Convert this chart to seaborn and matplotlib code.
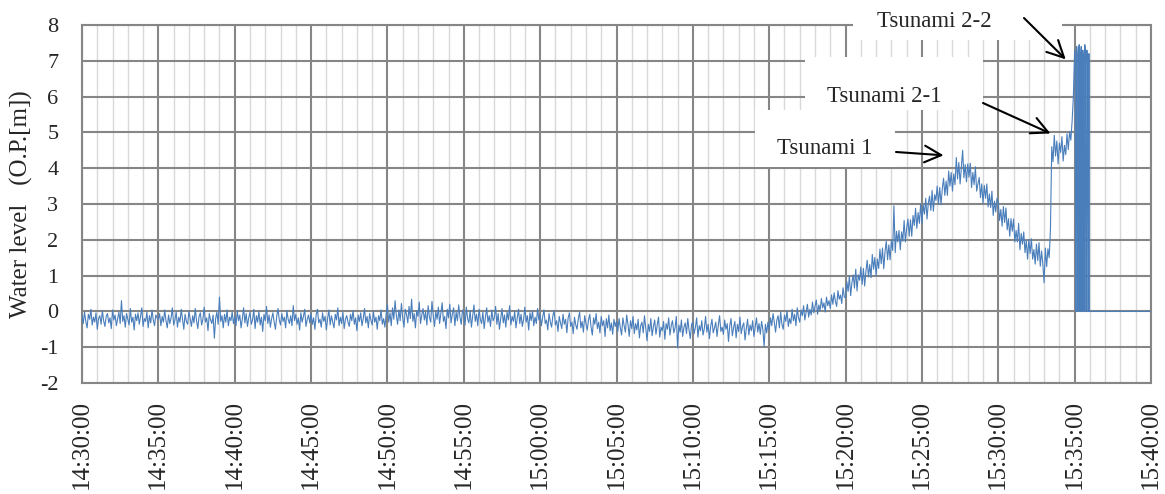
import numpy as np
import pandas as pd
import matplotlib
matplotlib.use("Agg")
import matplotlib.pyplot as plt
import matplotlib.dates as mdates
from matplotlib.patches import Rectangle
from matplotlib.text import Annotation
import seaborn as sns


# -----------------------------
# water level readings, 5 s apart, one list per 5 minutes
wl_1430 = [-0.10, -0.34, -0.02, -0.28, -0.46, -0.08, -0.22, 0.06, -0.38, -0.16,
           -0.30, -0.04, -0.50, -0.20, -0.12, -0.36, 0.02, -0.26, -0.42, -0.14,
           -0.06, -0.32, -0.18, -0.48, 0.04, -0.24, -0.10, -0.40, -0.20, -0.02,
           -0.34, 0.30, -0.28, -0.12, -0.44, -0.06, -0.22, -0.38, 0.08, -0.30,
           -0.16, -0.52, -0.08, -0.26, -0.04, -0.36, -0.14, 0.10, -0.42, -0.20,
           -0.28, -0.02, -0.46, -0.12, -0.32, 0.04, -0.24, -0.40, -0.10, -0.18]
wl_1435 = [-0.22, -0.06, -0.40, -0.14, -0.30, 0.04, -0.26, -0.46, -0.10, -0.34,
           -0.18, 0.10, -0.38, -0.24, -0.02, -0.44, -0.16, -0.30, 0.06, -0.22,
           -0.50, -0.08, -0.28, -0.36, 0.00, -0.20, -0.42, -0.12, -0.32, 0.08,
           -0.26, -0.48, -0.14, -0.04, -0.38, -0.22, 0.12, -0.30, -0.18, -0.54,
           -0.06, -0.24, -0.34, -0.10, -0.75, -0.20, -0.02, -0.36, 0.40, -0.28,
           -0.12, -0.46, -0.08, -0.30, 0.04, -0.40, -0.16, -0.26, -0.02, -0.34]
wl_1440 = [-0.14, -0.40, 0.02, -0.26, -0.10, -0.46, -0.20, 0.10, -0.32, -0.06,
           -0.42, -0.18, -0.02, -0.36, -0.24, 0.06, -0.48, -0.12, -0.30, 0.00,
           -0.38, -0.16, -0.56, -0.08, -0.26, 0.14, -0.34, -0.10, -0.44, -0.20,
           -0.04, -0.30, -0.50, -0.14, 0.08, -0.24, -0.38, -0.06, -0.28, -0.16,
           -0.46, 0.02, -0.22, -0.34, -0.12, -0.40, 0.16, -0.26, -0.08, -0.36,
           -0.18, -0.52, -0.04, -0.30, -0.14, 0.06, -0.42, -0.22, -0.10, -0.32]
wl_1445 = [-0.06, -0.36, -0.18, -0.50, -0.10, 0.06, -0.32, -0.22, -0.44, -0.04,
           -0.28, -0.14, -0.52, -0.20, 0.04, -0.38, -0.12, -0.30, -0.46, -0.08,
           -0.24, 0.10, -0.40, -0.16, -0.34, -0.02, -0.48, -0.22, -0.12, -0.30,
           -0.42, -0.08, -0.26, 0.02, -0.36, -0.18, -0.54, -0.10, -0.28, -0.04,
           -0.40, -0.20, 0.08, -0.32, -0.14, -0.46, -0.06, -0.24, -0.38, 0.00,
           -0.30, -0.16, -0.50, -0.12, -0.26, 0.04, -0.36, -0.20, -0.44, -0.08]
wl_1450 = [0.18, -0.30, -0.04, -0.40, 0.10, -0.22, 0.30, -0.12, -0.36, 0.04,
           -0.26, 0.22, -0.18, -0.44, 0.06, -0.08, -0.32, 0.14, -0.20, 0.34,
           -0.28, -0.06, -0.46, 0.02, -0.14, 0.26, -0.34, -0.10, 0.08, -0.24,
           -0.02, -0.38, 0.16, -0.16, -0.30, 0.28, -0.12, -0.42, 0.00, -0.22,
           0.12, -0.34, -0.06, 0.24, -0.28, -0.14, -0.48, 0.06, -0.18, 0.20,
           -0.32, -0.08, 0.10, -0.40, -0.02, -0.26, 0.18, -0.16, -0.36, 0.04]
wl_1455 = [-0.04, -0.38, 0.12, -0.20, -0.32, 0.02, -0.44, -0.14, 0.18, -0.28,
           -0.08, -0.40, 0.06, -0.22, -0.34, -0.02, -0.48, -0.16, 0.10, -0.30,
           -0.12, -0.42, 0.04, -0.26, -0.18, 0.14, -0.36, -0.06, -0.50, -0.20,
           0.08, -0.32, -0.10, -0.44, -0.02, -0.24, 0.16, -0.38, -0.14, -0.28,
           0.00, -0.46, -0.18, 0.06, -0.34, -0.08, -0.42, -0.22, 0.12, -0.30,
           -0.12, -0.52, -0.04, -0.26, 0.02, -0.40, -0.16, -0.34, 0.08, -0.24]
wl_1500 = [-0.10, -0.40, -0.16, 0.04, -0.34, -0.24, -0.52, -0.06, -0.30, -0.44,
           -0.12, 0.02, -0.38, -0.26, -0.56, -0.14, -0.32, -0.48, -0.08, -0.36,
           -0.22, -0.60, -0.18, -0.04, -0.42, -0.30, -0.62, -0.16, -0.38, -0.50,
           -0.20, -0.02, -0.46, -0.28, -0.58, -0.12, -0.34, -0.52, -0.24, -0.08,
           -0.44, -0.66, -0.18, -0.36, -0.06, -0.48, -0.30, -0.60, -0.14, -0.40,
           -0.26, -0.70, -0.20, -0.46, -0.10, -0.54, -0.32, -0.64, -0.22, -0.42]
wl_1505 = [-0.28, -0.56, -0.20, -0.46, -0.66, -0.18, -0.40, -0.58, -0.10, -0.36,
           -0.70, -0.26, -0.48, -0.14, -0.62, -0.34, -0.52, -0.22, -0.74, -0.40,
           -0.30, -0.60, -0.12, -0.46, -0.82, -0.36, -0.56, -0.20, -0.68, -0.42,
           -0.24, -0.64, -0.38, -0.16, -0.72, -0.44, -0.54, -0.28, -0.78, -0.34,
           -0.50, -0.18, -0.66, -0.40, -0.26, -0.60, -0.46, -0.14, -1.02, -0.38,
           -0.58, -0.24, -0.70, -0.44, -0.32, -0.62, -0.20, -0.52, -0.76, -0.36]
wl_1510 = [-0.30, -0.62, -0.44, -0.18, -0.72, -0.40, -0.54, -0.26, -0.66, -0.48,
           -0.14, -0.58, -0.36, -0.76, -0.42, -0.22, -0.60, -0.46, -0.30, -0.70,
           -0.38, -0.12, -0.56, -0.44, -0.64, -0.24, -0.50, -0.34, -0.84, -0.40,
           -0.20, -0.68, -0.46, -0.28, -0.74, -0.36, -0.56, -0.16, -0.62, -0.42,
           -0.32, -0.80, -0.48, -0.22, -0.66, -0.38, -0.54, -0.26, -0.70, -0.44,
           -0.18, -0.58, -0.34, -0.64, -0.28, -0.50, -0.98, -0.36, -0.60, -0.30]
wl_1515 = [-0.52, -0.18, -0.40, -0.06, -0.30, -0.58, -0.24, -0.12, -0.46, -0.02,
           -0.36, -0.50, -0.10, -0.28, 0.02, -0.42, -0.20, -0.34, 0.06, -0.26,
           -0.08, -0.40, 0.10, -0.18, -0.30, 0.04, -0.12, 0.16, -0.24, -0.02,
           0.20, -0.16, 0.06, -0.10, 0.26, -0.04, 0.14, 0.32, -0.08, 0.18,
           0.02, 0.36, 0.10, 0.24, -0.02, 0.40, 0.16, 0.30, 0.08, 0.46,
           0.20, 0.52, 0.28, 0.14, 0.58, 0.34, 0.46, 0.22, 0.66, 0.40]
wl_1520 = [0.38, 0.83, 0.56, 0.99, 0.44, 0.81, 1.02, 0.65, 1.18, 0.57,
           1.02, 0.87, 1.24, 0.75, 1.20, 0.71, 1.12, 1.43, 0.96, 1.31,
           0.94, 1.59, 1.18, 1.51, 1.00, 1.46, 1.20, 1.74, 1.33, 1.77,
           1.19, 1.67, 1.96, 1.44, 1.86, 1.44, 1.98, 1.70, 2.95, 1.64,
           2.24, 1.94, 2.26, 1.72, 2.22, 1.96, 2.54, 1.94, 2.32, 2.58,
           2.10, 2.56, 2.10, 2.68, 2.40, 2.88, 2.32, 2.76, 2.46, 3.00]
wl_1525 = [2.46, 2.98, 2.72, 3.16, 2.58, 3.02, 3.22, 2.82, 3.38, 2.80,
           3.26, 3.10, 3.50, 3.00, 3.46, 2.98, 3.42, 3.72, 3.24, 3.64,
           3.24, 3.92, 3.50, 3.88, 3.36, 3.84, 3.54, 4.30, 3.70, 4.16,
           3.56, 4.02, 4.50, 3.73, 4.10, 3.62, 4.12, 3.75, 4.14, 3.46,
           3.88, 3.54, 4.04, 3.36, 3.56, 3.74, 3.18, 3.56, 3.02, 3.52,
           3.16, 3.56, 2.92, 3.28, 2.90, 3.36, 2.68, 3.08, 2.78, 3.16]
wl_1530 = [3.05, 2.54, 2.85, 2.38, 2.93, 2.48, 2.89, 2.28, 2.59, 2.10,
           2.59, 2.24, 2.58, 1.94, 2.26, 1.94, 2.46, 1.72, 2.18, 1.88,
           2.22, 1.64, 1.98, 1.46, 2.01, 1.62, 2.03, 1.46, 1.73, 1.32,
           1.88, 1.42, 1.92, 1.26, 1.69, 1.32, 0.80, 1.77, 1.25, 1.75,
           1.50, 2.30, 4.60, 4.18, 4.92, 4.34, 4.76, 4.12, 4.70, 4.44,
           4.88, 4.20, 4.64, 4.38, 4.96, 4.52, 5.02, 4.78, 5.30, 6.00]

# gauge swinging between the top and zero, 2 s apart from 15:35:00
wl_1535 = [7.30, 7.10, 0.00, 0.00, 7.40, 7.20, 0.00, 0.00, 7.35, 7.45,
           0.00, 0.00, 7.20, 7.40, 0.00, 0.00, 7.30, 7.10, 0.00, 0.00,
           7.45, 7.25, 0.00, 0.00, 7.30, 7.00, 0.00, 0.00, 7.20, 0.00]

# flat after the gauge failed
tail_times = ["2011-03-11 15:36:00", "2011-03-11 15:40:30"]
tail_values = [0.0, 0.0]

labels = ["Tsunami 1", "Tsunami 2-1", "Tsunami 2-2"]
label_times = ["2011-03-11 15:26:25", "2011-03-11 15:33:25", "2011-03-11 15:34:25"]
label_levels = [4.36, 4.97, 7.04]


# -----------------------------
main = (wl_1430 + wl_1435 + wl_1440 + wl_1445 + wl_1450 + wl_1455 + wl_1500
        + wl_1505 + wl_1510 + wl_1515 + wl_1520 + wl_1525 + wl_1530)
t_main = pd.date_range("2011-03-11 14:30:00", periods=len(main), freq="5s")
t_1535 = pd.date_range("2011-03-11 15:35:00", periods=len(wl_1535), freq="2s")

df = pd.DataFrame({
    "time": list(t_main) + list(t_1535) + list(pd.to_datetime(tail_times)),
    "level": main + wl_1535 + tail_values,
})


# -----------------------------
sns.set_style("white")
plt.rcParams["font.family"] = ["Liberation Serif", "DejaVu Serif"]
plt.rcParams["axes.unicode_minus"] = False

W, H = 1165, 494
fig = plt.figure(figsize=(W / 100, H / 100), dpi=100)
ax = fig.add_axes([82 / W, 1 - 383 / H, (1151 - 82) / W, (383 - 25) / H])

sns.lineplot(data=df, x="time", y="level", ax=ax, color="#4A7EBB",
             linewidth=0.8, estimator=None, sort=False, zorder=3)

ax.set_xlim(pd.Timestamp("2011-03-11 14:30:00"), pd.Timestamp("2011-03-11 15:40:00"))
ax.set_ylim(-2, 8)
ax.set_yticks(range(-2, 9))

ax.xaxis.set_major_locator(mdates.MinuteLocator(byminute=range(0, 60, 5)))
ax.xaxis.set_minor_locator(mdates.MinuteLocator(interval=1))
ax.xaxis.set_major_formatter(mdates.DateFormatter("%H:%M:%S"))

ax.set_axisbelow(True)
ax.grid(which="major", axis="both", color="#868686", linewidth=1.5)
ax.grid(which="minor", axis="x", color="#d9d9d9", linewidth=1.0)
for s in ax.spines.values():
    s.set_color("#868686")
    s.set_linewidth(1.5)

ax.tick_params(axis="x", which="both", length=0, pad=12, labelsize=18, labelrotation=90)
ax.tick_params(axis="y", which="major", length=6, width=1.5, color="#868686",
               pad=11, labelsize=16)
for lab in ax.get_xticklabels():
    lab.set_ha("center")
    lab.set_va("top")

ax.set_xlabel("")
ax.set_ylabel("Water level   (O.P.[m])", fontsize=18)
ax.yaxis.set_label_coords(-0.046, 0.5)


# -----------------------------
# white label boxes that cover the grid (image pixels: x0, x1, y_top, y_bottom)
boxes = [(755, 895, 110, 167), (805, 983, 57, 110), (853, 1062, 0, 40)]
for x0, x1, yt, yb in boxes:
    fig.add_artist(Rectangle((x0 / W, 1 - yb / H), (x1 - x0) / W, (yb - yt) / H,
                             transform=fig.transFigure, facecolor="white",
                             edgecolor="none", zorder=5))

text_pos = [(825, 154), (884, 102), (934, 27)]
arrow_tail = [(896, 152), (983, 103), (1024, 18)]
for lab, (tx, ty), (ax0, ay0), lt, lv in zip(labels, text_pos, arrow_tail,
                                              label_times, label_levels):
    fig.text(tx / W, 1 - ty / H, lab, ha="center", va="baseline",
             fontsize=16.5, zorder=6)
    arrow = Annotation("", xy=(mdates.date2num(pd.Timestamp(lt)), lv),
                       xycoords=ax.transData,
                       xytext=(ax0, H - ay0), textcoords="figure pixels",
                       arrowprops=dict(arrowstyle="->,head_length=0.6,head_width=0.3",
                                       color="black", lw=1.5, shrinkA=0, shrinkB=0,
                                       mutation_scale=20),
                       annotation_clip=False)
    arrow.set_zorder(7)
    fig.add_artist(arrow)

fig.savefig("out.png", dpi=100)
